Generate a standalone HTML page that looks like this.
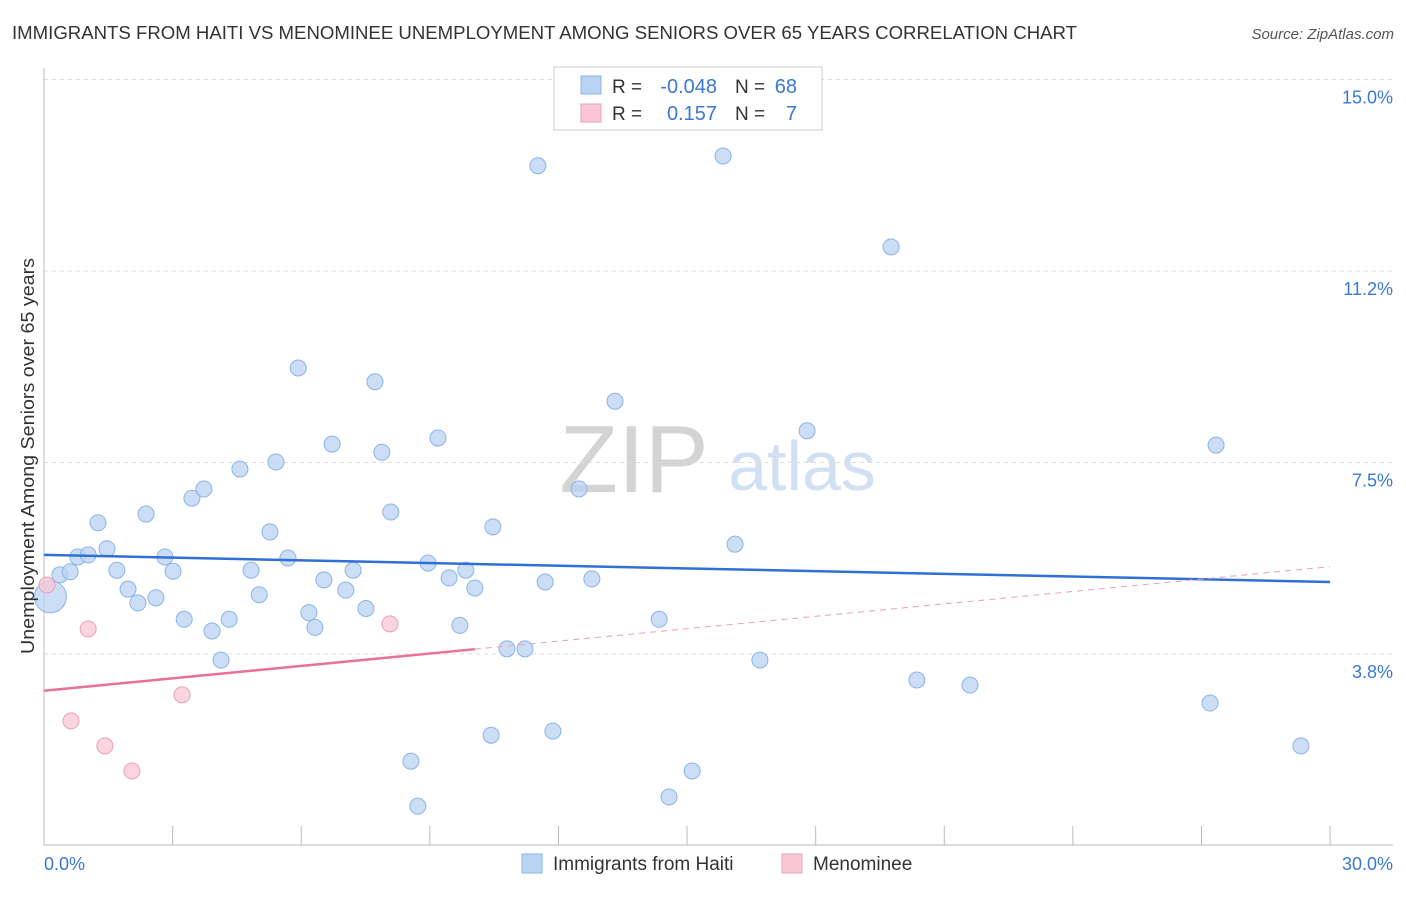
<!DOCTYPE html>
<html><head><meta charset="utf-8"><style>
body{margin:0;background:#fff;font-family:"Liberation Sans",sans-serif;}
svg text{font-family:"Liberation Sans",sans-serif;}
</style></head><body>
<svg id="c" width="1406" height="892">
<text x="12" y="39" font-size="18" fill="#333" textLength="1065" lengthAdjust="spacingAndGlyphs">IMMIGRANTS FROM HAITI VS MENOMINEE UNEMPLOYMENT AMONG SENIORS OVER 65 YEARS CORRELATION CHART</text>
<text x="1394" y="39" font-size="15" fill="#555" font-style="italic" text-anchor="end">Source: ZipAtlas.com</text>
<text x="634" y="492" font-size="96" fill="#d4d4d4" font-family="Liberation Serif" text-anchor="middle">ZIP</text>
<text x="802" y="490" font-size="70" fill="#d2e0f3" text-anchor="middle">atlas</text>
<g id="grid"></g><g id="marks"></g>
<text transform="translate(34,456) rotate(-90)" font-size="18" fill="#333" text-anchor="middle" textLength="396" lengthAdjust="spacingAndGlyphs">Unemployment Among Seniors over 65 years</text>
<g>
<rect x="554" y="67" width="268" height="63" fill="#fff" stroke="#ccc"/>
<rect x="581" y="76" width="20" height="18" fill="#b9d3f3" stroke="#8ab4e8"/>
<rect x="581" y="104" width="20" height="18" fill="#f8c6d4" stroke="#eaa0b8"/>
<text x="612" y="93" font-size="19" fill="#333">R =</text>
<text x="717" y="93" font-size="20" fill="#3a78d4" text-anchor="end">-0.048</text>
<text x="735" y="93" font-size="19" fill="#333">N =</text>
<text x="797" y="93" font-size="20" fill="#3a78d4" text-anchor="end">68</text>
<text x="612" y="120" font-size="19" fill="#333">R =</text>
<text x="717" y="120" font-size="20" fill="#3a78d4" text-anchor="end">0.157</text>
<text x="735" y="120" font-size="19" fill="#333">N =</text>
<text x="797" y="120" font-size="20" fill="#3a78d4" text-anchor="end">7</text>
</g>
<g>
<rect x="522" y="854" width="20" height="19" fill="#b9d3f3" stroke="#8ab4e8"/>
<text x="553" y="870" font-size="19" fill="#333">Immigrants from Haiti</text>
<rect x="782" y="854" width="20" height="19" fill="#f8c6d4" stroke="#eaa0b8"/>
<text x="813" y="870" font-size="19" fill="#333">Menominee</text>
</g>
</svg>
<script>
const haitiX=[0.15,0.37,0.61,0.79,1.03,1.26,1.47,1.70,1.96,2.19,2.38,2.61,2.82,3.01,3.27,3.45,3.73,3.92,4.13,4.32,4.57,4.83,5.02,5.27,5.41,5.69,5.93,6.18,6.32,6.53,6.72,7.04,7.21,7.51,7.72,7.88,8.09,8.56,8.72,8.96,9.19,9.45,9.70,9.84,10.05,10.47,10.43,10.80,11.22,11.52,11.69,11.87,12.48,12.78,13.32,14.35,14.58,15.12,15.84,16.12,16.70,17.80,19.76,20.36,21.60,27.20,27.34,29.32];
const haitiY=[4.87,5.30,5.36,5.65,5.69,6.32,5.81,5.39,5.02,4.75,6.49,4.85,5.65,5.37,4.43,6.80,6.98,4.20,3.63,4.43,7.37,5.39,4.91,6.14,7.51,5.63,9.35,4.56,4.27,5.20,7.86,5.00,5.39,4.64,9.08,7.70,6.53,1.65,0.77,5.53,7.98,5.24,4.31,5.39,5.04,6.24,2.16,3.85,3.85,13.31,5.16,2.24,6.98,5.22,8.70,4.43,0.95,1.46,13.50,5.90,3.63,8.12,11.72,3.24,3.14,2.79,7.84,1.95];
const menoX=[0.07,1.03,0.63,1.42,2.05,3.22,8.07];
const menoY=[5.10,4.24,2.44,1.95,1.46,2.95,4.34];
const haitiTrend=[5.69,5.16];
const menoTrend=[3.03,5.46];
const menoSolidEnd=10.05;
const yTicks=[3.75,7.5,11.25,15];
const yLabels=["3.8%","7.5%","11.2%","15.0%"];
const xTicks=[0,3,6,9,12,15,18,21,24,27,30];
const NS='http://www.w3.org/2000/svg';
const sx=v=>44+v*42.87, sy=v=>845.5-v*51.07;
function mk(p,t,a){const e=document.createElementNS(NS,t);for(const k in a)e.setAttribute(k,a[k]);p.appendChild(e);return e;}
const g=document.getElementById('grid'), m=document.getElementById('marks');
yTicks.forEach((v,i)=>{
 const l=mk(g,'line',{x1:44,x2:1393,y1:sy(v),y2:sy(v),stroke:'#ddd','stroke-dasharray':'4,4'});
 
 
 const t=mk(g,'text',{x:1393,y:sy(v)+24,'font-size':18,fill:'#3a78d4','text-anchor':'end'});t.textContent=yLabels[i];
 
 
});
mk(g,'line',{x1:44,x2:44,y1:68,y2:845,stroke:'#bbb'});
mk(g,'line',{x1:44,x2:1393,y1:845,y2:845,stroke:'#bbb'});
xTicks.forEach(v=>{const l=mk(g,'line',{x1:sx(v),x2:sx(v),y1:826,y2:845,stroke:'#bbb'});
 
 });
let t0=mk(g,'text',{x:44,y:870,'font-size':18,fill:'#3a78d4'});t0.textContent='0.0%';


let t1=mk(g,'text',{x:1393,y:870,'font-size':18,fill:'#3a78d4','text-anchor':'end'});t1.textContent='30.0%';


haitiX.forEach((x,i)=>{const c=mk(m,'circle',{cx:sx(x),cy:sy(haitiY[i]),r:i==0?16:8,fill:'#b9d3f3','fill-opacity':0.75,stroke:'#8ab4e8'});
 
 });
menoX.forEach((x,i)=>{const c=mk(m,'circle',{cx:sx(x),cy:sy(menoY[i]),r:8,fill:'#f8c6d4','fill-opacity':0.75,stroke:'#eaa0b8'});
 
 });
const hl=mk(m,'line',{x1:sx(0),y1:sy(haitiTrend[0]),x2:sx(30),y2:sy(haitiTrend[1]),stroke:'#2f6fd6','stroke-width':2.5});


const mx=menoSolidEnd, my=menoTrend[0]+(menoTrend[1]-menoTrend[0])*mx/30;
const ml=mk(m,'line',{x1:sx(0),y1:sy(menoTrend[0]),x2:sx(mx),y2:sy(my),stroke:'#e8709a','stroke-width':2.5});


const md=mk(m,'line',{x1:sx(mx),y1:sy(my),x2:sx(30),y2:sy(menoTrend[1]),stroke:'#eaa0b8','stroke-width':1,'stroke-dasharray':'6,5'});


</script>
</body></html>
